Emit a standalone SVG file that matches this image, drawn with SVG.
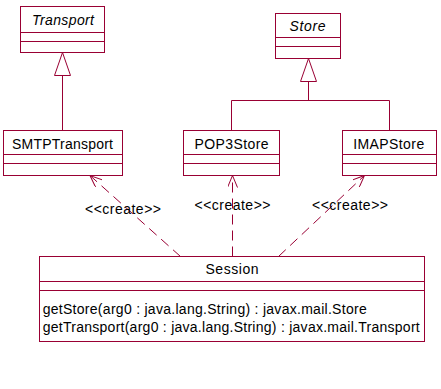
<svg xmlns="http://www.w3.org/2000/svg" width="441" height="389" viewBox="0 0 441 389">
<style>
.box{fill:#fff;stroke:#990033;stroke-width:1}
.ln{fill:none;stroke:#990033;stroke-width:1}
.dep{fill:none;stroke:#990033;stroke-width:1;stroke-dasharray:10,6}
text{font-family:"Liberation Sans",Arial,sans-serif;font-size:14px;fill:#000}
.c{text-anchor:middle}
.i{font-style:italic}
</style>
<defs>
<marker id="open" viewBox="0 0 12 10" refX="12" refY="5" markerWidth="12" markerHeight="10" markerUnits="userSpaceOnUse" orient="auto">
<path d="M0,0 L12,5 L0,10" fill="none" stroke="#990033" stroke-width="1"/>
</marker>
</defs>
<rect width="441" height="389" fill="#fff"/>
<g id="connectors">
<path class="ln" d="M62.5,75.5 V130.5"/>
<path class="ln" d="M54.5,75.5 H70.5 L62.5,52.5 Z"/>
<path class="ln" d="M308.5,81.5 V100.5 M231.5,130.5 V100.5 H389.5 V130.5"/>
<path class="ln" d="M300.5,81.5 H316.5 L308.5,58.5 Z"/>
<path class="dep" d="M180.5,256.5 L90,175.5" marker-end="url(#open)"/>
<path class="dep" d="M232.5,256.5 L232.5,175.5" marker-end="url(#open)"/>
<path class="dep" d="M278.5,256.5 L364.5,175.5" marker-end="url(#open)"/>
<text class="c" x="123" y="214" textLength="76">&lt;&lt;create&gt;&gt;</text>
<text class="c" x="232.5" y="210" textLength="76">&lt;&lt;create&gt;&gt;</text>
<text class="c" x="350" y="209.5" textLength="76">&lt;&lt;create&gt;&gt;</text>
</g>
<g id="Transport">
<rect class="box" x="20.5" y="6.5" width="84" height="46"/>
<path class="ln" d="M20.5,32.5 H104.5 M20.5,41.5 H104.5"/>
<text class="c i" x="63" y="25" textLength="62">Transport</text>
</g>
<g id="Store">
<rect class="box" x="275.5" y="13.5" width="65" height="45"/>
<path class="ln" d="M275.5,37.5 H340.5 M275.5,46.5 H340.5"/>
<text class="c i" x="307.5" y="31" textLength="36">Store</text>
</g>
<g id="SMTPTransport">
<rect class="box" x="3.5" y="130.5" width="119" height="45"/>
<path class="ln" d="M3.5,154.5 H122.5 M3.5,163.5 H122.5"/>
<text class="c" x="62.5" y="148.5" textLength="101">SMTPTransport</text>
</g>
<g id="POP3Store">
<rect class="box" x="183.5" y="130.5" width="96" height="45"/>
<path class="ln" d="M183.5,154.5 H279.5 M183.5,163.5 H279.5"/>
<text class="c" x="231.5" y="148.5" textLength="74">POP3Store</text>
</g>
<g id="IMAPStore">
<rect class="box" x="342.5" y="130.5" width="94" height="45"/>
<path class="ln" d="M342.5,154.5 H436.5 M342.5,163.5 H436.5"/>
<text class="c" x="388.7" y="148.5" textLength="71">IMAPStore</text>
</g>
<g id="Session">
<rect class="box" x="39.5" y="256.5" width="385" height="85"/>
<path class="ln" d="M39.5,281.5 H424.5 M39.5,290.5 H424.5"/>
<text class="c" x="232" y="274" textLength="53">Session</text>
<text x="42.7" y="314" textLength="324">getStore(arg0 : java.lang.String) : javax.mail.Store</text>
<text x="42.7" y="332" textLength="377">getTransport(arg0 : java.lang.String) : javax.mail.Transport</text>
</g>
</svg>
